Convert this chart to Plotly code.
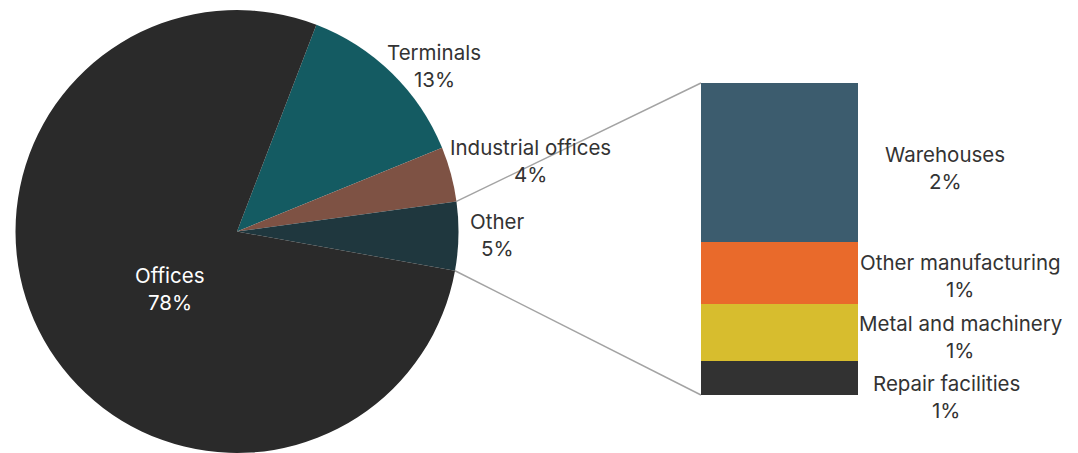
import math
import plotly.graph_objects as go

# ---- data -------------------------------------------------------------
pie_labels = ["Terminals", "Industrial offices", "Other", "Offices"]
pie_values = [13, 4, 5, 78]
pie_colors = ["#145b62", "#7e5244", "#1f373e", "#2a2a2a"]
pie_text_colors = ["#333333", "#333333", "#333333", "#ffffff"]

# breakdown of "Other", stacked bottom -> top
other_labels = ["Repair facilities", "Metal and machinery", "Other manufacturing", "Warehouses"]
other_values = [0.52, 0.85, 0.95, 2.4]
other_colors = ["#323232", "#d7bd2e", "#e96a2b", "#3c5c6e"]

# ---- layout geometry (pixels) ---------------------------------------
W, H = 1078, 453
M_TOP, M_BOT = 10, 0
PLOT_H = H - M_TOP - M_BOT
PIE_CX = 237
PIE_R = PLOT_H / 2
PIE_CY = M_TOP + PIE_R
ROTATION = 21

BAR_LEFT, BAR_RIGHT = 701, 858
BAR_TOP, BAR_BOTTOM = 83, 395

FONT = "Inter"
FONT_SIZE = 20.5
LINE_GAP = 27

# label centres (pixels)
pie_label_pos = [(434, 66), (530, 161), (497, 235), (170, 289)]
bar_label_pos = [(946, 397), (960, 337), (960, 276), (945, 168)]


def px_to_paper(x, y):
    return x / W, (H - M_BOT - y) / PLOT_H


fig = go.Figure()

dx0, _ = px_to_paper(PIE_CX - PIE_R, 0)
dx1, _ = px_to_paper(PIE_CX + PIE_R, 0)
fig.add_trace(go.Pie(
    labels=pie_labels,
    values=pie_values,
    sort=False,
    direction="clockwise",
    rotation=ROTATION,
    marker=dict(colors=pie_colors, line=dict(width=0)),
    textinfo="none",
    hoverinfo="label+percent",
    domain=dict(x=[dx0, dx1], y=[0, 1]),
    showlegend=False,
))

for lab, val, col in zip(other_labels, other_values, other_colors):
    fig.add_trace(go.Bar(
        x=[0], y=[val], name=lab, marker=dict(color=col, line=dict(width=0)),
        width=1, showlegend=False, xaxis="x", yaxis="y",
    ))

total_other = sum(other_values)
bx0, by0 = px_to_paper(BAR_LEFT, BAR_BOTTOM)
bx1, by1 = px_to_paper(BAR_RIGHT, BAR_TOP)

# connector lines from the "Other" slice edges to the stacked bar
tot = sum(pie_values)
idx_other = pie_labels.index("Other")
start_frac = sum(pie_values[:idx_other]) / tot
end_frac = sum(pie_values[:idx_other + 1]) / tot
shapes = []
for frac, bar_y in ((start_frac, by1), (end_frac, by0)):
    a = math.radians(ROTATION + 360 * frac)
    ex = PIE_CX + PIE_R * math.sin(a)
    ey = PIE_CY - PIE_R * math.cos(a)
    px, py = px_to_paper(ex, ey)
    shapes.append(dict(type="line", xref="paper", yref="paper",
                       x0=px, y0=py, x1=bx0, y1=bar_y,
                       line=dict(color="#a3a3a3", width=1.5), layer="below"))

annotations = []


def add_label(name, pct, cx, cy, color):
    for txt, yy in ((name, cy - LINE_GAP / 2), (pct, cy + LINE_GAP / 2)):
        ax, ay = px_to_paper(cx, yy)
        annotations.append(dict(
            text=txt, x=ax, y=ay, xref="paper", yref="paper",
            xanchor="center", yanchor="middle", showarrow=False,
            font=dict(family=FONT, size=FONT_SIZE, color=color),
        ))


for lab, val, col, (cx, cy) in zip(pie_labels, pie_values, pie_text_colors, pie_label_pos):
    add_label(lab, f"{val / tot * 100:.0f}%", cx, cy, col)

for lab, val, (cx, cy) in zip(other_labels, other_values, bar_label_pos):
    add_label(lab, f"{val:.0f}%", cx, cy, "#333333")

fig.update_layout(
    width=W, height=H,
    margin=dict(l=0, r=0, t=M_TOP, b=M_BOT),
    paper_bgcolor="white", plot_bgcolor="white",
    barmode="stack", bargap=0,
    xaxis=dict(domain=[bx0, bx1], range=[-0.5, 0.5], visible=False, fixedrange=True),
    yaxis=dict(domain=[by0, by1], range=[0, total_other], visible=False, fixedrange=True),
    shapes=shapes,
    annotations=annotations,
    font=dict(family=FONT, color="#333333"),
)

fig.write_html("out.html")
